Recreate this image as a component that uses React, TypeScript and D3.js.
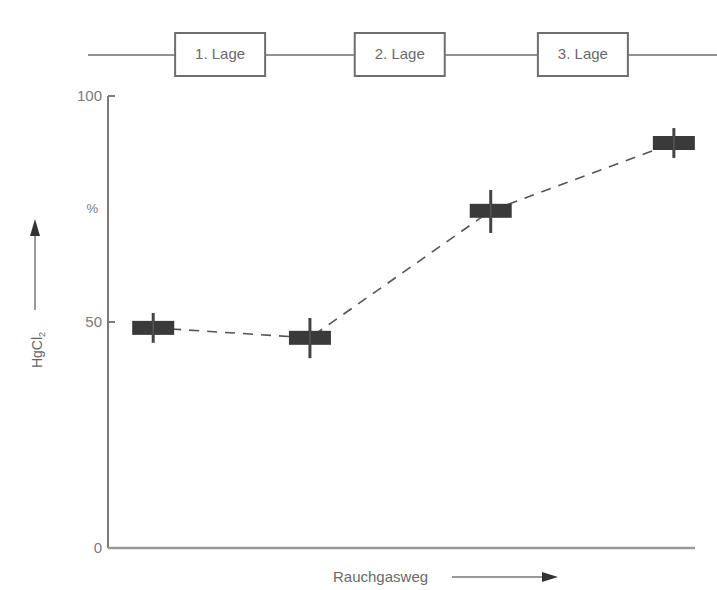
import * as d3 from "d3";

// positions along the flue gas path (0..100, arbitrary units) and HgCl2 share in %
const positions = [7.7, 34.4, 65.2, 96.4];
const values = [48.7, 46.5, 74.6, 89.6];
const whiskerLow = [45.4, 42.0, 69.7, 86.3];
const whiskerHigh = [52.0, 50.9, 79.2, 92.9];

const stageLabels = ["1. Lage", "2. Lage", "3. Lage"];
const stageCenters = [19.1, 49.7, 80.9];
const yTicks = [0, 50, 100];

const W = 717;
const H = 590;
const x0 = 108, x1 = 695;
const y0 = 548, y1 = 96;

const xScale = d3.scaleLinear().domain([0, 100]).range([x0, x1]);
const yScale = d3.scaleLinear().domain([0, 100]).range([y0, y1]);

const ink = "#3a3a3a";
const grey = "#6e6e6e";
const font = "'Liberation Sans', Arial, sans-serif";

export default function App() {
  const line = d3.line<number>()
    .x((d, i) => xScale(positions[i]))
    .y(d => yScale(d));

  return (
    <svg width={W} height={H} style={{ position: "absolute", left: 0, top: 0, background: "#fff" }}>
      {/* stage bar on top */}
      <line x1={88} x2={717} y1={55} y2={55} stroke={grey} strokeWidth={1.5} />
      {stageLabels.map((s, i) => {
        const cx = xScale(stageCenters[i]);
        return (
          <g key={s}>
            <rect x={cx - 45} y={33} width={90} height={43} fill="#fff" stroke={grey} strokeWidth={2} />
            <text x={cx} y={59} textAnchor="middle" fontFamily={font} fontSize={15} fill="#6a6a6a">{s}</text>
          </g>
        );
      })}

      {/* axes */}
      <line x1={x0} x2={x0} y1={y1} y2={y0} stroke="#7a7a7a" strokeWidth={2} />
      <line x1={x0} x2={x1} y1={y0} y2={y0} stroke="#9a9a9a" strokeWidth={2.5} />
      {yTicks.map(t => (
        <g key={t}>
          {t > 0 && <line x1={x0} x2={x0 + 7} y1={yScale(t)} y2={yScale(t)} stroke="#7a7a7a" strokeWidth={2} />}
          <text x={x0 - 6} y={yScale(t) + 5} textAnchor="end" fontFamily={font} fontSize={15} fill="#7a7a7a">{t}</text>
        </g>
      ))}
      <text x={98} y={213} textAnchor="end" fontFamily={font} fontSize={13} fill="#7a7a7a">%</text>

      {/* y label with arrow */}
      <line x1={35} x2={35} y1={310} y2={232} stroke="#777" strokeWidth={1.5} />
      <path d="M35,219 L30,236 L40,236 Z" fill="#333" />
      <text transform="translate(42,350) rotate(-90)" textAnchor="middle" fontFamily={font} fontSize={14} fill="#666">
        HgCl<tspan fontSize={9} dy={3}>2</tspan>
      </text>

      {/* x label with arrow */}
      <text x={333} y={582} fontFamily={font} fontSize={15} fill="#6a6a6a">Rauchgasweg</text>
      <line x1={452} x2={545} y1={577} y2={577} stroke="#777" strokeWidth={1.5} />
      <path d="M558,577 L542,572 L542,582 Z" fill="#333" />

      {/* dashed connection */}
      <path d={line(values) ?? ""} fill="none" stroke="#555" strokeWidth={1.6} strokeDasharray="10,8" />

      {/* markers */}
      {values.map((v, i) => {
        const cx = xScale(positions[i]);
        return (
          <g key={i}>
            <line x1={cx} x2={cx} y1={yScale(whiskerLow[i])} y2={yScale(whiskerHigh[i])} stroke="#444" strokeWidth={3} />
            <rect x={cx - 21} y={yScale(v) - 7} width={42} height={14} fill={ink} />
            <line x1={cx} x2={cx} y1={yScale(v) - 7} y2={yScale(v) + 7} stroke="#555" strokeWidth={1.5} />
          </g>
        );
      })}
    </svg>
  );
}
